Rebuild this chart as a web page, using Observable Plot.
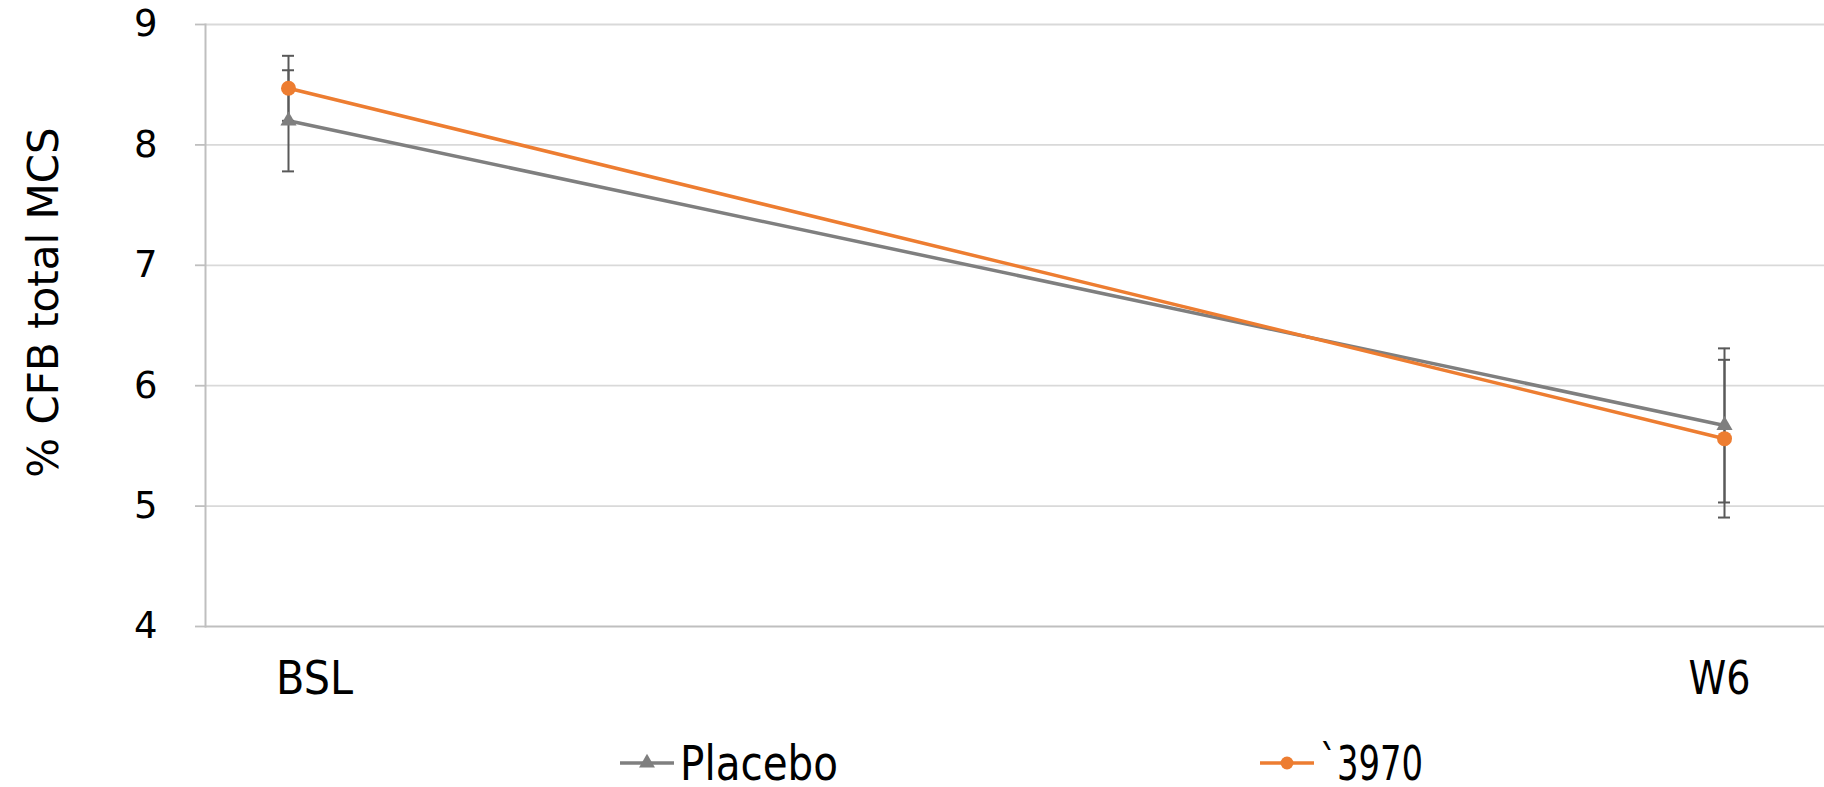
<!DOCTYPE html>
<html>
<head>
<meta charset="utf-8">
<script src="https://cdn.jsdelivr.net/npm/d3@7"></script>
<script src="https://cdn.jsdelivr.net/npm/@observablehq/plot@0.6"></script>
<style>
  html, body { margin: 0; padding: 0; background: #fff; }
  body { width: 1824px; height: 787px; overflow: hidden; position: relative; font-family: "DejaVu Sans", sans-serif; }
  #chart svg { display: block; }
  #legend { position: absolute; left: 0; top: 728px; }
</style>
</head>
<body>
<div id="chart"></div>
<svg id="legend" width="1824" height="59"></svg>
<script>
// ---- data ----
const timepoints = ["BSL", "W6"];
const seriesNames = ["Placebo", "`3970"];
const placeboMean = [8.20, 5.67];
const placeboErr = [0.42, 0.64];
const drugMean = [8.47, 5.56];
const drugErr = [0.27, 0.655];
const yTicks = [4, 5, 6, 7, 8, 9];
const yLabel = "% CFB total MCS";

const colors = ["#7f7f7f", "#ed7d31"];
const errColor = "#595959";
const font = "'DejaVu Sans', sans-serif";

const rows = [];
timepoints.forEach((t, i) => {
  rows.push({t, series: seriesNames[0], v: placeboMean[i], e: placeboErr[i]});
  rows.push({t, series: seriesNames[1], v: drugMean[i], e: drugErr[i]});
});
const placeboRows = rows.filter(d => d.series === seriesNames[0]);
const drugRows = rows.filter(d => d.series === seriesNames[1]);

const chart = Plot.plot({
  width: 1824,
  height: 730,
  marginLeft: 205,
  marginRight: 0,
  marginTop: 24,
  marginBottom: 104,
  style: { background: "#fff", fontFamily: font },
  x: { type: "point", domain: timepoints, range: [288, 1724], padding: 0 },
  y: { domain: [4, 9] },
  color: { domain: seriesNames, range: colors },
  marks: [
    Plot.ruleY(yTicks.filter(v => v !== 4), { stroke: "#d9d9d9", strokeWidth: 1.8 }),
    Plot.ruleY([4], { stroke: "#bfbfbf", strokeWidth: 2 }),
    Plot.frame({ anchor: "left", stroke: "#bfbfbf", strokeWidth: 2 }),
    Plot.axisY({ ticks: yTicks, tickFormat: d => String(d), tickSize: 10, tickPadding: 38, stroke: "#bfbfbf", strokeWidth: 1.8,
                 fontSize: 37, label: null, fill: "#000" }),
    Plot.axisX([timepoints[0]], { tickSize: 0, tickPadding: 34, fontSize: 47, fill: "#000", label: null, dx: 26 }),
    Plot.axisX([timepoints[1]], { tickSize: 0, tickPadding: 34, fontSize: 47, fill: "#000", label: null, dx: -5 }),
    Plot.text([yLabel], { frameAnchor: "left", textAnchor: "middle", rotate: -90, dx: -161, dy: -23, fontSize: 42, fill: "#000", text: d => d }),
    Plot.line(rows, { x: "t", y: "v", z: "series", stroke: "series", strokeWidth: 3.5 }),
    Plot.ruleX(rows, { x: "t", y1: d => d.v - d.e, y2: d => d.v + d.e, stroke: errColor, strokeWidth: 2 }),
    Plot.ruleY(rows, { x1: "t", x2: "t", y: d => d.v + d.e, stroke: errColor, strokeWidth: 2, insetLeft: -6, insetRight: -6 }),
    Plot.ruleY(rows, { x1: "t", x2: "t", y: d => d.v - d.e, stroke: errColor, strokeWidth: 2, insetLeft: -6, insetRight: -6 }),
    Plot.dot(placeboRows, { x: "t", y: "v", symbol: "triangle", r: 6, fill: colors[0], stroke: "none" }),
    Plot.dot(drugRows, { x: "t", y: "v", symbol: "circle", r: 7.5, fill: colors[1], stroke: "none" })
  ]
});
document.getElementById("chart").appendChild(chart);

// condensed look of the category labels
const xLabelWidths = { BSL: 77, W6: 62 };
d3.select(chart).selectAll('g[aria-label="x-axis tick label"] text').each(function() {
  const t = this.textContent;
  if (xLabelWidths[t]) d3.select(this).attr("textLength", xLabelWidths[t]).attr("lengthAdjust", "spacingAndGlyphs");
});

// ---- legend ----
const leg = d3.select("#legend");
const legendItems = [
  { name: seriesNames[0], color: colors[0], symbol: d3.symbolTriangle, x: 620, w: 158 },
  { name: seriesNames[1], color: colors[1], symbol: d3.symbolCircle, x: 1260, w: 103 }
];
const cy = 35;
legendItems.forEach(it => {
  const g = leg.append("g");
  g.append("line").attr("x1", it.x).attr("x2", it.x + 54).attr("y1", cy).attr("y2", cy)
    .attr("stroke", it.color).attr("stroke-width", 3.5);
  g.append("path").attr("d", d3.symbol(it.symbol, it.symbol === d3.symbolCircle ? 130 : 110)())
    .attr("transform", `translate(${it.x + 27},${cy})`).attr("fill", it.color);
  g.append("text").attr("x", it.x + 60).attr("y", 52)
    .attr("font-family", font).attr("font-size", 48).attr("fill", "#000")
    .attr("textLength", it.w).attr("lengthAdjust", "spacingAndGlyphs").text(it.name);
});
</script>
</body>
</html>
